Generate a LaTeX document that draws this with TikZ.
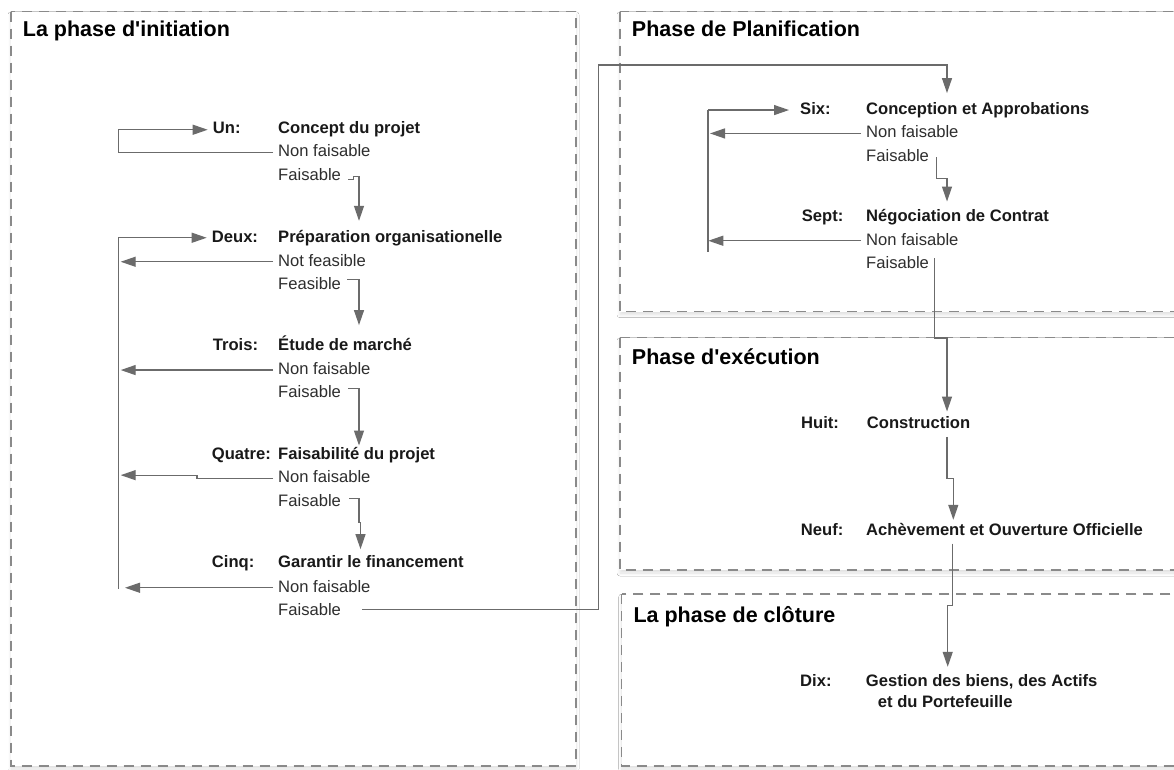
\documentclass[tikz,border=0pt]{standalone}
\usepackage{fontspec}
\setmainfont{Liberation Sans}[Ligatures=TeXOff]
\usetikzlibrary{arrows.meta,calc,shadows.blur}
\definecolor{conncol}{HTML}{6B6B6B}
\definecolor{boxcol}{HTML}{8A8A8A}
\definecolor{txtcol}{HTML}{2E2E2E}
\begin{document}
\begin{tikzpicture}[x=1pt,y=-1pt,
  phasebox/.style={draw=boxcol, line width=1.2pt, dash pattern=on 10pt off 7pt, fill=white,
    blur shadow={shadow xshift=0pt, shadow yshift=-3pt, shadow blur radius=3pt, shadow opacity=12}},
  ttl/.style={anchor=base west, inner xsep=0pt, inner ysep=1pt, font=\fontsize{21.5}{24}\selectfont\bfseries, text=black},
  stepno/.style={anchor=base west, inner xsep=5pt, inner ysep=1pt, text height=12pt, text depth=3.5pt,
    font=\fontsize{16.6}{20}\selectfont\bfseries, text=black!90},
  opt/.style={anchor=base west, inner xsep=5pt, inner ysep=1pt, text height=12pt, text depth=3.5pt,
    font=\fontsize{16.6}{20}\selectfont, text=txtcol},
  conn/.style={draw=conncol, line width=1.2pt, -{Triangle[length=15pt,width=10pt]}},
  wire/.style={draw=conncol, line width=1.2pt},
]
\useasboundingbox (0,0) rectangle (1174,770);
\clip (0,0) rectangle (1174,770);
\fill[white] (0,0) rectangle (1174,770);

% phase boxes
\path[phasebox] (11,11.7) rectangle (576,766);
\path[phasebox] (620,11.7) rectangle (1200,311.7);
\path[phasebox] (620,337.7) rectangle (1200,570);
\path[phasebox] (621.7,594) rectangle (1200,766);

% titles
\node[ttl] (ttl1) at (22.7,37) {La phase d'initiation};
\node[ttl] (ttl2) at (631.7,37) {Phase de Planification};
\node[ttl] (ttl3) at (631.7,364.4) {Phase d'exécution};
\node[ttl] (ttl4) at (633.3,622.7) {La phase de clôture};

% left column
\node[stepno] (un) at (207.7,134) {Un:};
\node[stepno] (t1) at (273,134) {Concept du projet};
\node[opt] (nf1) at (273,157) {Non faisable};
\node[opt] (f1) at (273,181) {Faisable};

\node[stepno] (deux) at (206.7,242) {Deux:};
\node[stepno] (t2) at (273,242) {Préparation organisationelle};
\node[opt] (nf2) at (273,266) {Not feasible};
\node[opt] (f2) at (273,289) {Feasible};

\node[stepno] (trois) at (207.7,350.3) {Trois:};
\node[stepno] (t3) at (273,350.3) {Étude de marché};
\node[opt] (nf3) at (273,374.3) {Non faisable};
\node[opt] (f3) at (273,397.7) {Faisable};

\node[stepno] (quatre) at (206.7,459.3) {Quatre:};
\node[stepno] (t4) at (273,459.3) {Faisabilité du projet};
\node[opt] (nf4) at (273,482.7) {Non faisable};
\node[opt] (f4) at (273,506.7) {Faisable};

\node[stepno] (cinq) at (206.7,567.7) {Cinq:};
\node[stepno] (t5) at (273,567.7) {Garantir le financement};
\node[opt] (nf5) at (273,592) {Non faisable};
\node[opt] (f5) at (273,615.3) {Faisable};

% right column
\node[stepno] (six) at (795,114.3) {Six:};
\node[stepno] (t6) at (861,114.3) {Conception et Approbations};
\node[opt] (nf6) at (861,137.7) {Non faisable};
\node[opt] (f6) at (861,161.7) {Faisable};

\node[stepno] (sept) at (796.7,221) {Sept:};
\node[stepno] (t7) at (861,221) {Négociation de Contrat};
\node[opt] (nf7) at (861,245) {Non faisable};
\node[opt] (f7) at (861,268) {Faisable};

\node[stepno] (huit) at (796,428) {Huit:};
\node[stepno] (t8) at (861.7,428) {Construction};

\node[stepno] (neuf) at (795.7,535) {Neuf:};
\node[stepno] (t9) at (861,535) {Achèvement et Ouverture Officielle};

\node[stepno] (dix) at (795,686) {Dix:};
\node[stepno] (t10) at (860.7,686) {Gestion des biens, des Actifs};
\node[stepno] (t10b) at (872.7,707) {et du Portefeuille};

% helper coordinates
\coordinate (Lx) at (118.3,0);
\coordinate (Rx) at (708,0);
\coordinate (Jx) at (598.3,65);
\coordinate (Ey) at (0,338);
\coordinate (T8) at ($(t8.north west)+(85.3,-3.3)$);

% Un loop
\draw[conn] (nf1.west) -| (Lx |- un.west) -- (un.west);

% Deux..Cinq loop
\draw[wire] (Lx |- deux.west) -- ($(Lx |- nf5.west)+(0,1)$);
\draw[conn] (Lx |- deux.west) -- (deux.west);
\draw[conn] (nf2.west) -- ($(Lx |- nf2.west)+(2.4,0)$);
\draw[conn] (nf3.west) -- ($(Lx |- nf3.west)+(2.4,0)$);
\draw[conn] (nf4.west) -- ++(-76,0) -- ++(0,-3.3) -- ($(Lx |- nf4.west)+(2.4,-3.3)$);
\draw[conn] (nf5.west) -- ($(Lx |- nf5.west)+(6.7,0)$);

% feasible chain, left
\draw[conn] ($(f1.east)+(2,3)$) -- ++(5,0) -- ++(0,-3) -| ($(t2.north west)+(86,-8)$);
\draw[conn] ($(f2.east)+(1,-5)$) -| ($(t3.north west)+(86,-12)$);
\draw[conn] ($(f3.east)+(2,-5)$) -| ($(t4.north west)+(86,-0.6)$);
\draw[conn] ($(f4.east)+(3,-4)$) -| ($(t5.north west)+(86,-31.7)$) -- ++(1.5,0) -- ($(t5.north west)+(87.5,-5.4)$);

% to planning
\draw[conn] ($(f5.east)+(16,-1.75)$) -| (Jx) -| ($(t6.north west)+(86,-8)$);

% Six / Sept loop
\draw[wire] (Rx |- six.west) -- ($(Rx |- nf7.west)+(0,11)$);
\draw[conn] (Rx |- six.west) -- ($(six.west)+(-6,0)$);
\draw[conn] (nf6.west) -- ($(Rx |- nf6.west)+(2,0)$);
\draw[conn] (nf7.west) -- ($(Rx |- nf7.west)+(0.3,0)$);

% feasible chain, right
\draw[conn] ($(f6.east)+(2.3,0)$) -- ++(0,21) -| ($(t7.north west)+(86,-6.3)$);
\draw[conn] ($(f7.east)+(0.3,-5.5)$) |- (T8 |- Ey) -- (T8);
\draw[conn] ($(t8.south west)+(85.3,4.2)$) -- ++(0,41.6) -| ($(t9.north west)+(92.3,-2)$);
\draw[conn] ($(t9.south west)+(91.3,4)$) -- ++(0,61.5) -| ($(t10.north west)+(87,-6)$);
\end{tikzpicture}
\end{document}
